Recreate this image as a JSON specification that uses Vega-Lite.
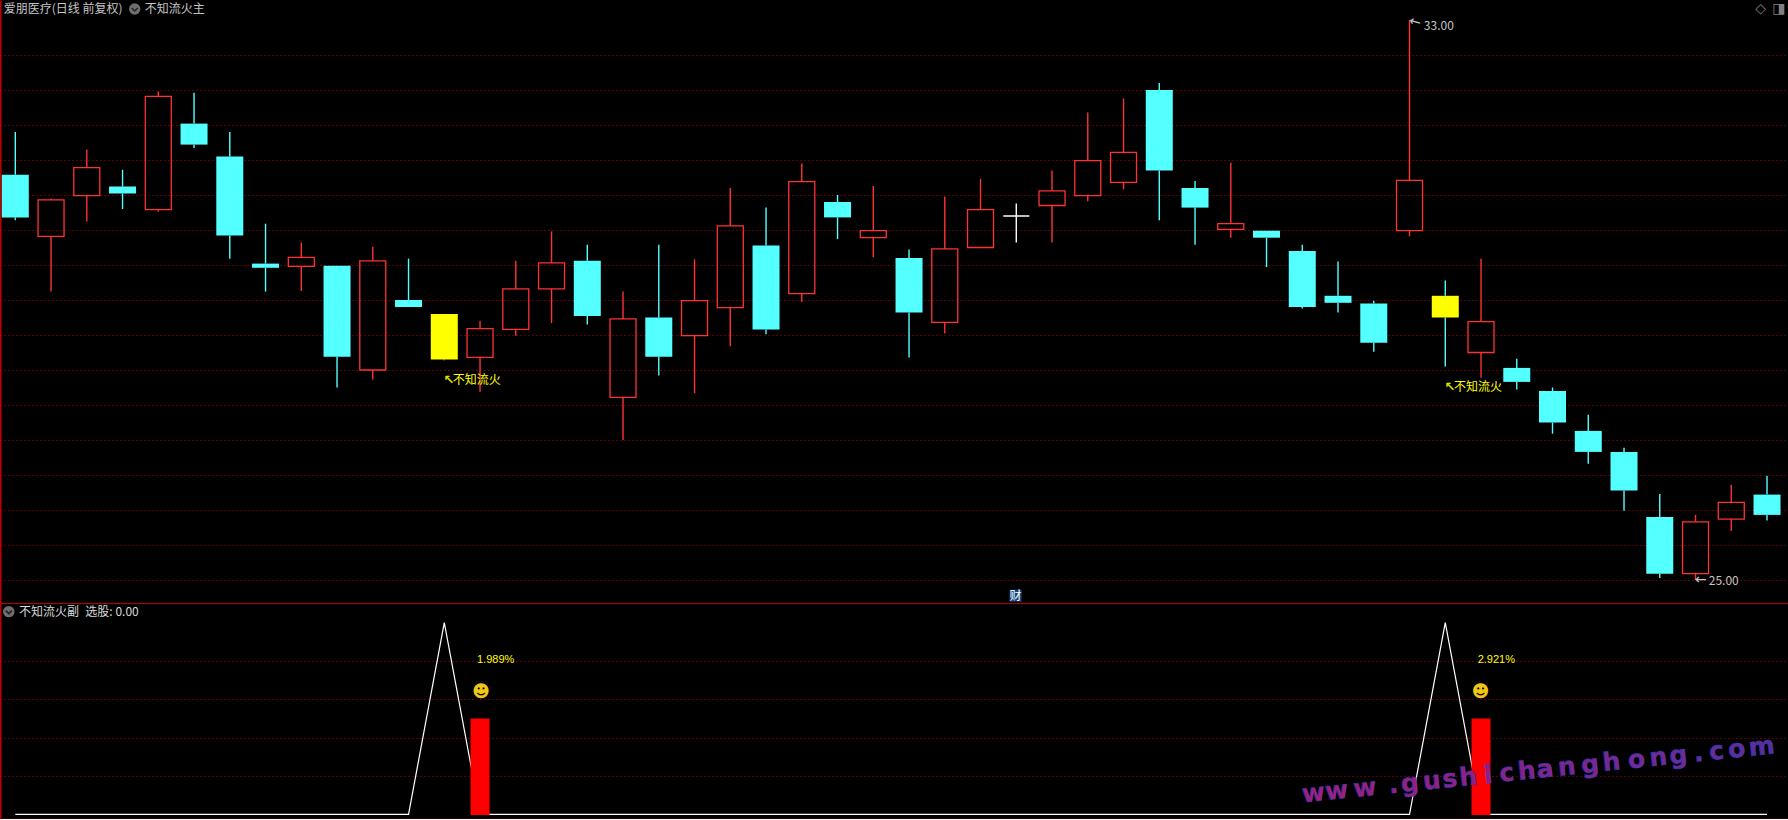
{
"$schema":"https://vega.github.io/schema/vega-lite/v6.json",
"background":"#000000","padding":0,"spacing":0,"bounds":"flush",
"config":{"view":{"stroke":null},"font":"Noto Sans CJK SC","text":{"font":"Noto Sans CJK SC"}},
"datasets":{
"candles":[
{"k":1,"high":31.40,"bodyTop":30.79,"bodyBottom":30.18,"low":30.14,"kind":"down"},
{"k":2,"high":30.45,"bodyTop":30.43,"bodyBottom":29.91,"low":29.12,"kind":"up"},
{"k":3,"high":31.15,"bodyTop":30.89,"bodyBottom":30.49,"low":30.12,"kind":"up"},
{"k":4,"high":30.86,"bodyTop":30.62,"bodyBottom":30.52,"low":30.30,"kind":"down"},
{"k":5,"high":31.98,"bodyTop":31.91,"bodyBottom":30.29,"low":30.26,"kind":"up"},
{"k":6,"high":31.96,"bodyTop":31.52,"bodyBottom":31.22,"low":31.17,"kind":"down"},
{"k":7,"high":31.40,"bodyTop":31.05,"bodyBottom":29.92,"low":29.59,"kind":"down"},
{"k":8,"high":30.09,"bodyTop":29.52,"bodyBottom":29.46,"low":29.12,"kind":"down"},
{"k":9,"high":29.82,"bodyTop":29.61,"bodyBottom":29.48,"low":29.13,"kind":"up"},
{"k":10,"high":29.49,"bodyTop":29.49,"bodyBottom":28.19,"low":27.75,"kind":"down"},
{"k":11,"high":29.76,"bodyTop":29.56,"bodyBottom":28.00,"low":27.86,"kind":"up"},
{"k":12,"high":29.59,"bodyTop":29.00,"bodyBottom":28.90,"low":28.90,"kind":"down"},
{"k":13,"high":28.80,"bodyTop":28.80,"bodyBottom":28.15,"low":28.14,"kind":"signal"},
{"k":14,"high":28.70,"bodyTop":28.59,"bodyBottom":28.18,"low":27.69,"kind":"up"},
{"k":15,"high":29.56,"bodyTop":29.16,"bodyBottom":28.58,"low":28.49,"kind":"up"},
{"k":16,"high":29.98,"bodyTop":29.53,"bodyBottom":29.16,"low":28.67,"kind":"up"},
{"k":17,"high":29.79,"bodyTop":29.56,"bodyBottom":28.77,"low":28.65,"kind":"down"},
{"k":18,"high":29.12,"bodyTop":28.73,"bodyBottom":27.61,"low":27.00,"kind":"up"},
{"k":19,"high":29.79,"bodyTop":28.75,"bodyBottom":28.19,"low":27.92,"kind":"down"},
{"k":20,"high":29.58,"bodyTop":28.99,"bodyBottom":28.49,"low":27.67,"kind":"up"},
{"k":21,"high":30.60,"bodyTop":30.06,"bodyBottom":28.89,"low":28.34,"kind":"up"},
{"k":22,"high":30.32,"bodyTop":29.78,"bodyBottom":28.58,"low":28.51,"kind":"down"},
{"k":23,"high":30.95,"bodyTop":30.69,"bodyBottom":29.09,"low":28.97,"kind":"up"},
{"k":24,"high":30.50,"bodyTop":30.40,"bodyBottom":30.18,"low":29.87,"kind":"down"},
{"k":25,"high":30.63,"bodyTop":29.99,"bodyBottom":29.89,"low":29.61,"kind":"up"},
{"k":26,"high":29.72,"bodyTop":29.60,"bodyBottom":28.82,"low":28.18,"kind":"down"},
{"k":27,"high":30.48,"bodyTop":29.73,"bodyBottom":28.68,"low":28.52,"kind":"up"},
{"k":28,"high":30.73,"bodyTop":30.29,"bodyBottom":29.75,"low":29.75,"kind":"up"},
{"k":29,"high":30.38,"bodyTop":30.20,"bodyBottom":30.20,"low":29.82,"kind":"doji"},
{"k":30,"high":30.85,"bodyTop":30.56,"bodyBottom":30.35,"low":29.82,"kind":"up"},
{"k":31,"high":31.68,"bodyTop":30.99,"bodyBottom":30.49,"low":30.41,"kind":"up"},
{"k":32,"high":31.88,"bodyTop":31.11,"bodyBottom":30.68,"low":30.58,"kind":"up"},
{"k":33,"high":32.10,"bodyTop":32.00,"bodyBottom":30.85,"low":30.14,"kind":"down"},
{"k":34,"high":30.70,"bodyTop":30.60,"bodyBottom":30.32,"low":29.79,"kind":"down"},
{"k":35,"high":30.96,"bodyTop":30.09,"bodyBottom":30.01,"low":29.89,"kind":"up"},
{"k":36,"high":29.99,"bodyTop":29.99,"bodyBottom":29.89,"low":29.47,"kind":"down"},
{"k":37,"high":29.79,"bodyTop":29.70,"bodyBottom":28.90,"low":28.88,"kind":"down"},
{"k":38,"high":29.55,"bodyTop":29.06,"bodyBottom":28.96,"low":28.82,"kind":"down"},
{"k":39,"high":28.99,"bodyTop":28.95,"bodyBottom":28.39,"low":28.26,"kind":"down"},
{"k":40,"high":33.00,"bodyTop":30.71,"bodyBottom":29.99,"low":29.91,"kind":"up"},
{"k":41,"high":29.28,"bodyTop":29.06,"bodyBottom":28.75,"low":28.05,"kind":"signal"},
{"k":42,"high":29.59,"bodyTop":28.69,"bodyBottom":28.25,"low":27.89,"kind":"up"},
{"k":43,"high":28.16,"bodyTop":28.03,"bodyBottom":27.83,"low":27.72,"kind":"down"},
{"k":44,"high":27.75,"bodyTop":27.70,"bodyBottom":27.25,"low":27.09,"kind":"down"},
{"k":45,"high":27.36,"bodyTop":27.13,"bodyBottom":26.83,"low":26.66,"kind":"down"},
{"k":46,"high":26.89,"bodyTop":26.83,"bodyBottom":26.28,"low":25.99,"kind":"down"},
{"k":47,"high":26.23,"bodyTop":25.90,"bodyBottom":25.09,"low":25.03,"kind":"down"},
{"k":48,"high":25.93,"bodyTop":25.83,"bodyBottom":25.09,"low":25.00,"kind":"up"},
{"k":49,"high":26.36,"bodyTop":26.11,"bodyBottom":25.87,"low":25.70,"kind":"up"},
{"k":50,"high":26.49,"bodyTop":26.22,"bodyBottom":25.93,"low":25.85,"kind":"down"}
],
"sub":[
{"k":1,"line":0},{"k":12,"line":0},{"k":13,"line":100},{"k":14,"line":0,"bar":50},{"k":40,"line":0},{"k":41,"line":100},{"k":42,"line":0,"bar":50},{"k":50,"line":0}
],
"watermark":[
{"k":37.31,"v":10.97,"c":"w","t":0},{"k":37.96,"v":12.2,"c":"w","t":1},{"k":38.75,"v":13.75,"c":"w","t":2},{"k":39.55,"v":15.3,"c":".","t":3},
{"k":40.01,"v":16.2,"c":"g","t":4},{"k":40.62,"v":17.4,"c":"u","t":5},{"k":41.13,"v":18.4,"c":"s","t":6},{"k":41.64,"v":19.4,"c":"h","t":7},
{"k":42.2,"v":20.5,"c":"i","t":8},{"k":42.72,"v":21.5,"c":"c","t":9},{"k":43.28,"v":22.6,"c":"h","t":10},{"k":43.79,"v":23.6,"c":"a","t":11},
{"k":44.4,"v":24.7,"c":"n","t":12},{"k":45.05,"v":26,"c":"g","t":13},{"k":45.65,"v":27.2,"c":"h","t":14},{"k":46.35,"v":28.5,"c":"o","t":15},
{"k":46.96,"v":29.7,"c":"n","t":16},{"k":47.52,"v":30.8,"c":"g","t":17},{"k":48.08,"v":31.9,"c":".","t":18},{"k":48.59,"v":32.9,"c":"c","t":19},
{"k":49.15,"v":34,"c":"o","t":20},{"k":49.85,"v":35.3,"c":"m","t":21}
]
},
"vconcat":[
{
"width":1788,"height":603,
"encoding":{"x":{"field":"k","type":"quantitative","title":null,
  "scale":{"domain":[0.572,50.587],"nice":false,"zero":false,"padding":0},
  "axis":{"labels":false,"ticks":false,"grid":false,"title":null,"domainColor":"#b80000","domainWidth":1}}},
"layer":[
{"data":{"name":"candles"},"mark":{"type":"rule","strokeWidth":1.4},
 "encoding":{
 "y":{"field":"high","type":"quantitative","title":null,
   "scale":{"domain":[24.6714,33.2857],"nice":false,"zero":false},
   "axis":{"values":[25,25.5,26,26.5,27,27.5,28,28.5,29,29.5,30,30.5,31,31.5,32,32.5],"labels":false,"ticks":false,"title":null,"grid":true,"gridColor":"#c00000","gridDash":[1,3],"gridWidth":1,"domainColor":"#c00000","domainWidth":2}},
 "y2":{"field":"bodyTop"},
 "stroke":{"field":"kind","type":"nominal","legend":null,"scale":{"domain":["down","up","signal","doji"],"range":["#54ffff","#ff3232","#54ffff","#ffffff"]}}}},
{"data":{"name":"candles"},"mark":{"type":"rule","strokeWidth":1.4},
 "encoding":{
 "y":{"field":"bodyBottom","type":"quantitative"},
 "y2":{"field":"low"},
 "stroke":{"field":"kind","type":"nominal","legend":null}}},
{"data":{"name":"candles"},"transform":[{"filter":"datum.kind==='down'||datum.kind==='signal'"}],
 "mark":{"type":"bar","size":27,"stroke":null},
 "encoding":{
 "y":{"field":"bodyTop","type":"quantitative"},
 "y2":{"field":"bodyBottom"},
 "fill":{"field":"kind","type":"nominal","legend":null,"scale":{"domain":["down","signal"],"range":["#54ffff","#ffff00"]}}}},
{"data":{"name":"candles"},"transform":[{"filter":"datum.kind==='up'||datum.kind==='doji'"}],
 "mark":{"type":"bar","size":26,"fill":"transparent","strokeWidth":1.3},
 "encoding":{
 "y":{"field":"bodyTop","type":"quantitative"},
 "y2":{"field":"bodyBottom"},
 "stroke":{"field":"kind","type":"nominal","legend":null}}},
{"data":{"values":[
  {"k":0.678,"p":33.15,"label":"爱朋医疗(日线 前复权)"},
  {"k":4.62,"p":33.15,"label":"不知流火主"},
  {"k":40.40,"p":32.92,"label":"33.00"},
  {"k":48.37,"p":24.98,"label":"25.00"}]},
 "mark":{"type":"text","align":"left","baseline":"middle","fontSize":12,"color":"#c4c4c4"},
 "encoding":{"y":{"field":"p","type":"quantitative"},"text":{"field":"label"}}},
{"data":{"values":[
  {"k":13.235,"p":27.861,"label":"不知流火"},
  {"k":41.243,"p":27.757,"label":"不知流火"}]},
 "mark":{"type":"text","align":"left","baseline":"middle","fontSize":12,"color":"#ffff00"},
 "encoding":{"y":{"field":"p","type":"quantitative"},"text":{"field":"label"}}},
{"data":{"values":[
  {"k":13.13,"p":27.861,"label":"↖"},
  {"k":41.13,"p":27.757,"label":"↖"}]},
 "mark":{"type":"text","align":"center","baseline":"middle","fontSize":13,"font":"DejaVu Sans","fontWeight":"bold","color":"#e0e000"},
 "encoding":{"y":{"field":"p","type":"quantitative"},"text":{"field":"label"}}},
{"data":{"values":[{"k":48.15,"p":25.0,"label":"←"}]},
 "mark":{"type":"text","align":"center","baseline":"middle","fontSize":14,"font":"DejaVu Sans","color":"#c4c4c4"},
 "encoding":{"y":{"field":"p","type":"quantitative"},"text":{"field":"label"}}},
{"data":{"values":[{"k":40.15,"p":32.97,"label":"←"}]},
 "mark":{"type":"text","align":"center","baseline":"middle","fontSize":14,"angle":15,"font":"DejaVu Sans","color":"#c4c4c4"},
 "encoding":{"y":{"field":"p","type":"quantitative"},"text":{"field":"label"}}},
{"data":{"values":[{"k":49.82,"p":33.157,"label":"◇"},{"k":50.33,"p":33.157,"label":"◨"}]},
 "mark":{"type":"text","align":"center","baseline":"middle","fontSize":14,"font":"DejaVu Sans","color":"#808080"},
 "encoding":{"y":{"field":"p","type":"quantitative"},"text":{"field":"label"}}},
{"data":{"values":[{"k":4.34,"p":33.157}]},
 "mark":{"type":"point","filled":true,"shape":"circle","size":130,"color":"#6e6e6e","opacity":1},
 "encoding":{"y":{"field":"p","type":"quantitative"}}},
{"data":{"values":[{"k":4.34,"p":33.157}]},
 "mark":{"type":"point","filled":false,"shape":"M-0.6,-0.2L0,0.4L0.6,-0.2","size":100,"color":"#222222","strokeWidth":1.5,"opacity":1},
 "encoding":{"y":{"field":"p","type":"quantitative"}}},
{"data":{"values":[{"k":28.98,"p":24.776}]},
 "mark":{"type":"square","size":144,"color":"#10457f","opacity":1},
 "encoding":{"y":{"field":"p","type":"quantitative"}}},
{"data":{"values":[{"k":28.98,"p":24.776,"label":"财"}]},
 "mark":{"type":"text","align":"center","baseline":"middle","fontSize":12,"color":"#ffffff"},
 "encoding":{"y":{"field":"p","type":"quantitative"},"text":{"field":"label"}}}
]
},
{
"width":1788,"height":216,
"encoding":{"x":{"field":"k","type":"quantitative","title":null,
  "scale":{"domain":[0.572,50.587],"nice":false,"zero":false,"padding":0},
  "axis":{"labels":false,"ticks":false,"grid":false,"title":null,"domainColor":"#c00000","domainWidth":1.5}}},
"layer":[
{"data":{"name":"sub"},"mark":{"type":"line","color":"#ffffff","strokeWidth":1.2,"interpolate":"linear"},
 "encoding":{"y":{"field":"line","type":"quantitative","title":null,
   "scale":{"domain":[-2.44,110.26],"nice":false,"zero":false},
   "axis":{"values":[20,40,60,80],"labels":false,"ticks":false,"title":null,"grid":true,"gridColor":"#c00000","gridDash":[1,3],"gridWidth":1,"domainColor":"#c00000","domainWidth":2}}}},
{"data":{"name":"sub"},"transform":[{"filter":"datum.bar>0"}],
 "mark":{"type":"bar","size":19,"color":"#ff0000"},
 "encoding":{"y":{"field":"bar","type":"quantitative","stack":null},"y2":{"datum":-0.4}}},
{"data":{"values":[{"k":13.915,"v":80.66,"label":"1.989%"},{"k":41.906,"v":80.66,"label":"2.921%"}]},
 "mark":{"type":"text","align":"left","baseline":"middle","fontSize":11,"font":"Liberation Sans","color":"#ffff00"},
 "encoding":{"y":{"field":"v","type":"quantitative"},"text":{"field":"label"}}},
{"data":{"values":[{"k":14.03,"v":63.8,"label":"☻"},{"k":41.99,"v":63.8,"label":"☻"}]},
 "mark":{"type":"text","align":"center","baseline":"middle","fontSize":17,"font":"DejaVu Sans","color":"#f0c814"},
 "encoding":{"y":{"field":"v","type":"quantitative"},"text":{"field":"label"}}},
{"data":{"values":[{"k":0.818,"v":105.75}]},
 "mark":{"type":"point","filled":true,"shape":"circle","size":130,"color":"#6e6e6e","opacity":1},
 "encoding":{"y":{"field":"v","type":"quantitative"}}},
{"data":{"values":[{"k":0.818,"v":105.75}]},
 "mark":{"type":"point","filled":false,"shape":"M-0.6,-0.2L0,0.4L0.6,-0.2","size":100,"color":"#222222","strokeWidth":1.5,"opacity":1},
 "encoding":{"y":{"field":"v","type":"quantitative"}}},
{"data":{"values":[{"k":1.10,"v":105.75,"label":"不知流火副"},{"k":2.96,"v":105.75,"label":"选股: 0.00"}]},
 "mark":{"type":"text","align":"left","baseline":"middle","fontSize":12,"color":"#d8d8d8"},
 "encoding":{"y":{"field":"v","type":"quantitative"},"text":{"field":"label"}}},
{"data":{"name":"watermark"},
 "mark":{"type":"text","align":"center","baseline":"middle","fontSize":25,"font":"DejaVu Sans","fontWeight":"bold","angle":-6,"stroke":"#3a3ac0","strokeWidth":0.7,"strokeOpacity":0.8},
 "encoding":{"y":{"field":"v","type":"quantitative"},"text":{"field":"c"},
   "fill":{"field":"t","type":"quantitative","legend":null,"scale":{"domain":[0,21],"range":["#a01f78","#5a2f9c"]}}}}
]
}
]
}
